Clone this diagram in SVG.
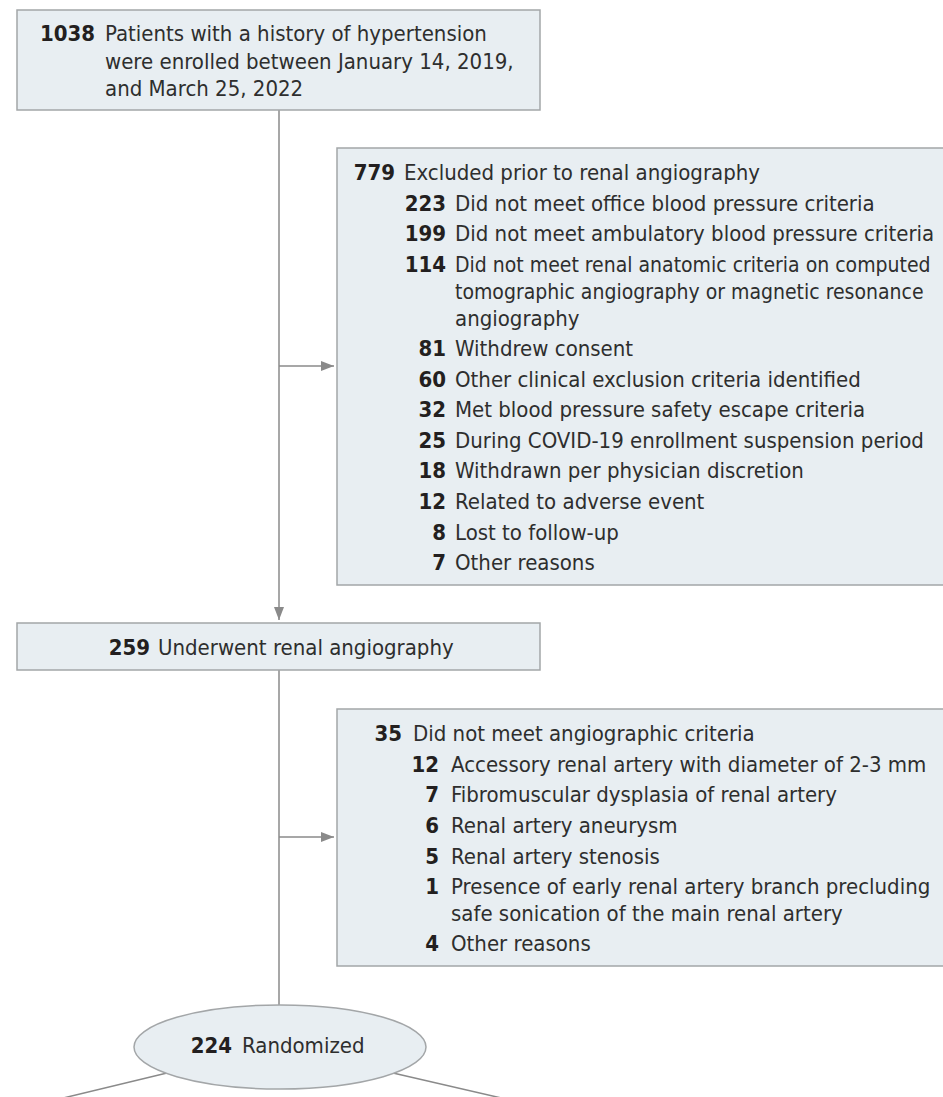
<svg xmlns="http://www.w3.org/2000/svg" width="943" height="1097" viewBox="0 0 943 1097">
<defs>
<style>
.box{fill:#e8eef2;stroke:#a3a6a8;stroke-width:1.5}
.n{font-family:"Liberation Sans Narrow","DejaVu Sans Condensed","Liberation Sans",sans-serif;font-size:22px;font-weight:bold;fill:#231f20;text-anchor:end}
.t{font-family:"Liberation Sans Narrow","DejaVu Sans Condensed","Liberation Sans",sans-serif;font-size:22px;fill:#2e2e2e}
.s{font-size:21px}
.ln{fill:none;stroke:#8a8a8a;stroke-width:1.5}
</style>
<marker id="ah" viewBox="0 0 13 10" refX="13" refY="5" markerWidth="13" markerHeight="10" markerUnits="userSpaceOnUse" orient="auto">
<path d="M0,0 L13,5 L0,10 z" fill="#8a8a8a"/>
</marker>
</defs>
<g id="connectors">
<line class="ln" x1="279" y1="110" x2="279" y2="620" marker-end="url(#ah)"/>
<line class="ln" x1="279" y1="366" x2="334" y2="366" marker-end="url(#ah)"/>
<line class="ln" x1="279" y1="670" x2="279" y2="1005"/>
<line class="ln" x1="279" y1="837" x2="334" y2="837" marker-end="url(#ah)"/>
<line class="ln" x1="167" y1="1073" x2="55" y2="1100"/>
<line class="ln" x1="393" y1="1073" x2="510" y2="1100"/>
</g>
<g id="enrolled">
<rect class="box" x="17" y="10" width="523" height="100"/>
<text class="n" x="95" y="41">1038</text>
<text class="t" x="105" y="41">Patients with a history of hypertension</text>
<text class="t" x="105" y="69">were enrolled between January 14, 2019,</text>
<text class="t" x="105" y="96">and March 25, 2022</text>
</g>
<g id="excluded1">
<rect class="box" x="337" y="148" width="620" height="437"/>
<text class="n" x="395" y="180">779</text><text class="t" x="404" y="180">Excluded prior to renal angiography</text>
<text class="n" x="446" y="211">223</text><text class="t" x="455" y="211">Did not meet office blood pressure criteria</text>
<text class="n" x="446" y="241">199</text><text class="t" x="455" y="241">Did not meet ambulatory blood pressure criteria</text>
<text class="n" x="446" y="272">114</text><text class="t s" x="455" y="272">Did not meet renal anatomic criteria on computed</text>
<text class="t s" x="455" y="299">tomographic angiography or magnetic resonance</text>
<text class="t" x="455" y="326">angiography</text>
<text class="n" x="446" y="356">81</text><text class="t" x="455" y="356">Withdrew consent</text>
<text class="n" x="446" y="387">60</text><text class="t" x="455" y="387">Other clinical exclusion criteria identified</text>
<text class="n" x="446" y="417">32</text><text class="t" x="455" y="417">Met blood pressure safety escape criteria</text>
<text class="n" x="446" y="448">25</text><text class="t" x="455" y="448">During COVID-19 enrollment suspension period</text>
<text class="n" x="446" y="478">18</text><text class="t" x="455" y="478">Withdrawn per physician discretion</text>
<text class="n" x="446" y="509">12</text><text class="t" x="455" y="509">Related to adverse event</text>
<text class="n" x="446" y="540">8</text><text class="t" x="455" y="540">Lost to follow-up</text>
<text class="n" x="446" y="570">7</text><text class="t" x="455" y="570">Other reasons</text>
</g>
<g id="angiography">
<rect class="box" x="17" y="623" width="523" height="47"/>
<text class="n" x="150" y="655">259</text>
<text class="t" x="158" y="655">Underwent renal angiography</text>
</g>
<g id="excluded2">
<rect class="box" x="337" y="709" width="620" height="257"/>
<text class="n" x="402" y="741">35</text><text class="t" x="413" y="741">Did not meet angiographic criteria</text>
<text class="n" x="439" y="772">12</text><text class="t" x="451" y="772">Accessory renal artery with diameter of 2-3 mm</text>
<text class="n" x="439" y="802">7</text><text class="t" x="451" y="802">Fibromuscular dysplasia of renal artery</text>
<text class="n" x="439" y="833">6</text><text class="t" x="451" y="833">Renal artery aneurysm</text>
<text class="n" x="439" y="864">5</text><text class="t" x="451" y="864">Renal artery stenosis</text>
<text class="n" x="439" y="894">1</text><text class="t" x="451" y="894">Presence of early renal artery branch precluding</text>
<text class="t" x="451" y="921">safe sonication of the main renal artery</text>
<text class="n" x="439" y="951">4</text><text class="t" x="451" y="951">Other reasons</text>
</g>
<g id="randomized">
<ellipse class="box" cx="280" cy="1047" rx="146" ry="42"/>
<text class="n" x="232" y="1053">224</text>
<text class="t" x="242" y="1053">Randomized</text>
</g>
</svg>
